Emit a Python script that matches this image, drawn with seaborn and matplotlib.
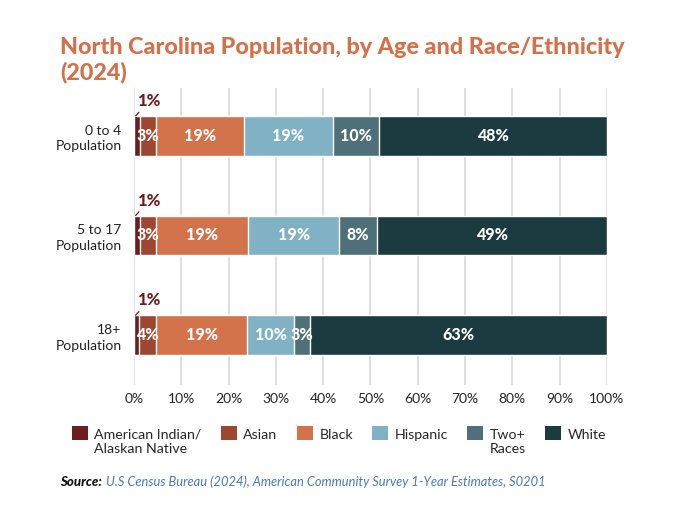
import numpy as np
import pandas as pd
import matplotlib.pyplot as plt
import seaborn as sns
from matplotlib.patches import Patch, Rectangle
from matplotlib.legend_handler import HandlerPatch

# Data (percent of each age group)
age_groups = ['0 to 4\nPopulation', '5 to 17\nPopulation', '18+\nPopulation']
races = ['American Indian/\nAlaskan Native', 'Asian', 'Black', 'Hispanic', 'Two+\nRaces', 'White']
american_indian = [1.3, 1.3, 1.0]
asian = [3.3, 3.4, 3.6]
black = [18.6, 19.5, 19.4]
hispanic = [18.9, 19.2, 9.8]
two_plus = [9.6, 8.0, 3.4]
white = [48.3, 48.6, 62.8]
labels_shown = [
    ['1%', '3%', '19%', '19%', '10%', '48%'],
    ['1%', '3%', '19%', '19%', '8%', '49%'],
    ['1%', '4%', '19%', '10%', '3%', '63%'],
]
colors = ['#6b1d20', '#9d4630', '#d2734c', '#80b1c4', '#4f7079', '#1c3b41']

series = [american_indian, asian, black, hispanic, two_plus, white]
values = np.array(series).T            # rows = age groups
cums = np.cumsum(values, axis=1)

rows = []
for i, g in enumerate(age_groups):
    for j, r in enumerate(races):
        rows.append({'group': g, 'race': r, 'value': values[i, j],
                     'cum': cums[i, j], 'start': cums[i, j] - values[i, j]})
df = pd.DataFrame(rows)

sns.set_style('white')
plt.rcParams['font.family'] = ['Lato', 'DejaVu Sans']

fig = plt.figure(figsize=(6.8, 5.11), dpi=100)
ax = fig.add_axes([0.197, 0.2466, 0.6956, 0.5812])

# stacked bars: draw cumulative widths from the longest to the shortest
for j in reversed(range(len(races))):
    sub = df[df['race'] == races[j]]
    sns.barplot(data=sub, x='cum', y='group', order=age_groups, color=colors[j],
                width=0.4, saturation=1, orient='h', ax=ax, zorder=3)

# segment labels
for i in range(len(age_groups)):
    for j in range(1, len(races)):
        sub = df[(df['group'] == age_groups[i]) & (df['race'] == races[j])].iloc[0]
        ax.text(sub['start'] + sub['value'] / 2, i, labels_shown[i][j],
                ha='center', va='center', color='white', fontsize=11.5,
                fontweight='black', zorder=6)
    # American Indian label sits above the bar with a leader line
    ax.annotate(labels_shown[i][0], xy=(0.35, i - 0.2), xytext=(0.75, i - 0.35),
                ha='left', va='center', color=colors[0], fontsize=12,
                fontweight='black', zorder=6,
                arrowprops=dict(arrowstyle='-', color=colors[0], lw=0.9,
                                shrinkA=0, shrinkB=0))

ax.set_xlim(0, 100)
ax.set_ylim(2.5, -0.48)
ax.set_xticks(range(0, 101, 10))
ax.set_xticklabels([f'{t}%' for t in range(0, 101, 10)], fontsize=10, color='#222222')
ax.tick_params(axis='y', labelsize=10, labelcolor='#222222', length=0, pad=9)
ax.tick_params(axis='x', length=0, pad=6)
for lab in ax.get_yticklabels():
    lab.set_horizontalalignment('right')
    lab.set_linespacing(1.35)
ax.set_xlabel('')
ax.set_ylabel('')
ax.grid(axis='x', color='#d9d9d9', lw=1.2, zorder=0)
ax.set_axisbelow(True)
sns.despine(ax=ax, left=True, bottom=True)

fig.text(0.088, 0.927, 'North Carolina Population, by Age and Race/Ethnicity\n(2024)',
         ha='left', va='top', fontsize=16.8, fontweight='black', color='#d2714a',
         linespacing=1.2)


# legend squares sit level with the first line of their label
def top_square(legend, orig_handle, xdescent, ydescent, width, height, fontsize):
    return Rectangle((-xdescent, -ydescent + 0.62 * fontsize), width, height)


leg_labels = [r if '\n' in r else r + '\n ' for r in races]
handles = [Patch(facecolor=c, edgecolor='none') for c in colors]
fig.legend(handles, leg_labels, loc='upper left', bbox_to_anchor=(0.097, 0.172), ncol=6,
           frameon=False, fontsize=10.2, handlelength=1.15, handleheight=1.15,
           handletextpad=0.45, columnspacing=1.35, borderaxespad=0,
           handler_map={Patch: HandlerPatch(patch_func=top_square)})

fig.text(0.088, 0.057, 'Source:', ha='left', va='center', fontsize=9.5,
         fontweight='black', style='italic', color='#111111')
fig.text(0.156, 0.057, 'U.S Census Bureau (2024), American Community Survey 1-Year Estimates, S0201',
         ha='left', va='center', fontsize=9.3, style='italic', color='#4a7ab5')

fig.savefig('out.png', dpi=100)
